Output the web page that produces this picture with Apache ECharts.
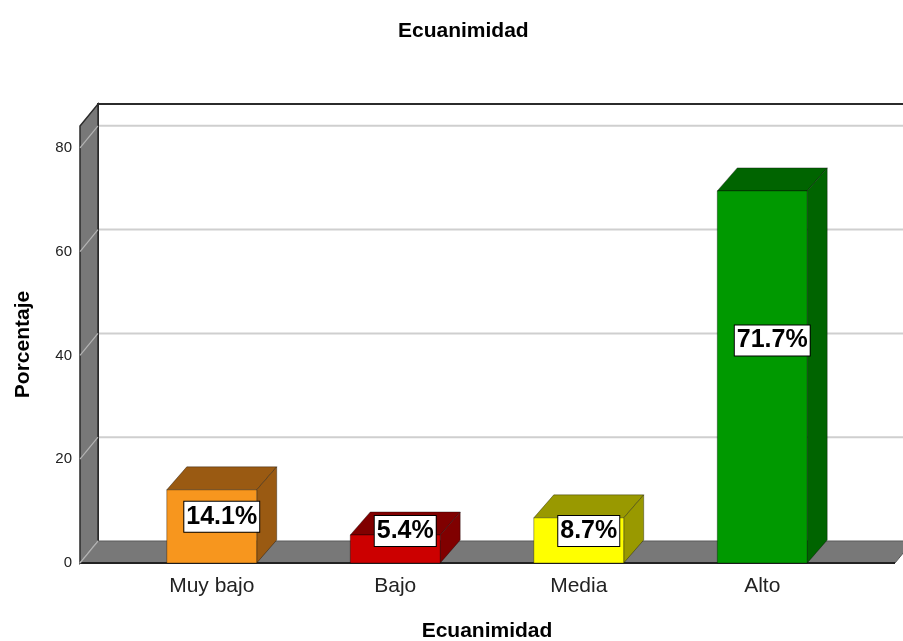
<!DOCTYPE html>
<html>
<head>
<meta charset="utf-8">
<script src="https://cdn.jsdelivr.net/npm/echarts@6/dist/echarts.min.js"></script>
<style>
html, body { margin: 0; padding: 0; background: #fff; }
#main { width: 903px; height: 641px; }
</style>
</head>
<body>
<div id="main"></div>
<script>
var categories = ['Muy bajo', 'Bajo', 'Media', 'Alto'];
var percentages = [14.1, 5.4, 8.7, 71.7];
var tickValues = [0, 20, 40, 60, 80];

var frontColors = ['#F7961E', '#CC0000', '#FFFF00', '#009900'];
var shadeColors = ['#9A5A12', '#800000', '#999900', '#006400'];

var FONT = "'Liberation Sans', Arial, sans-serif";
var WALL_DX = 18, WALL_DY = -22;   // depth of the walls
var BAR_DX = 20, BAR_DY = -23;     // depth of the bars
var WALL_PAD = 40;                 // walls stick out of the grid on both sides

var chart = echarts.init(document.getElementById('main'));

function renderWalls(params, api) {
    var cs = params.coordSys;
    var L = cs.x - WALL_PAD;
    var R = cs.x + cs.width + WALL_PAD + 1;
    var T = cs.y;
    var Y0 = cs.y + cs.height;
    var kids = [];

    // back wall grid lines
    tickValues.forEach(function (v) {
        var y = api.coord([0, v])[1];
        if (v > 0) {
            kids.push({ type: 'line', shape: { x1: L + WALL_DX, y1: y + WALL_DY, x2: R + WALL_DX + 20, y2: y + WALL_DY },
                style: { stroke: '#cfcfcf', lineWidth: 2 } });
        }
    });
    // back wall border
    kids.push({ type: 'polyline', shape: { points: [[L + WALL_DX, Y0 + WALL_DY], [L + WALL_DX, T + WALL_DY], [R + WALL_DX + 20, T + WALL_DY]] },
        style: { stroke: '#2b2b2b', lineWidth: 2, fill: null } });
    // left wall
    kids.push({ type: 'polygon', shape: { points: [[L, Y0], [L, T], [L + WALL_DX, T + WALL_DY], [L + WALL_DX, Y0 + WALL_DY]] },
        style: { fill: '#787878', stroke: '#2b2b2b', lineWidth: 1.5 } });
    tickValues.forEach(function (v) {
        var y = api.coord([0, v])[1];
        kids.push({ type: 'line', shape: { x1: L, y1: y, x2: L + WALL_DX, y2: y + WALL_DY },
            style: { stroke: '#b4b4b4', lineWidth: 1.2 } });
    });
    // floor
    kids.push({ type: 'polygon', shape: { points: [[L, Y0], [R, Y0], [R + WALL_DX, Y0 + WALL_DY], [L + WALL_DX, Y0 + WALL_DY]] },
        style: { fill: '#787878', stroke: '#5a5a5a', lineWidth: 1 } });
    kids.push({ type: 'line', shape: { x1: L, y1: Y0, x2: R, y2: Y0 },
        style: { stroke: '#222', lineWidth: 2 } });
    kids.push({ type: 'line', shape: { x1: L, y1: Y0, x2: L + WALL_DX, y2: Y0 + WALL_DY },
        style: { stroke: '#b4b4b4', lineWidth: 1.2 } });
    return { type: 'group', children: kids };
}

function renderBar(params, api) {
    var i = api.value(0);
    var top = api.coord([i, api.value(1)]);
    var y0 = api.coord([i, 0])[1];
    var w = api.size([1, 0])[0] * 0.49;
    var xl = top[0] - w / 2, xr = top[0] + w / 2, ty = top[1];
    var h = y0 - ty;
    var front = frontColors[i], shade = shadeColors[i];
    var labelY = y0 - Math.max(0.59 * h + 3, 32);
    return {
        type: 'group',
        children: [
            { type: 'polygon', shape: { points: [[xl, ty], [xr, ty], [xr + BAR_DX, ty + BAR_DY], [xl + BAR_DX, ty + BAR_DY]] },
              style: { fill: shade, stroke: 'rgba(0,0,0,0.35)', lineWidth: 1 } },
            { type: 'polygon', shape: { points: [[xr, ty], [xr + BAR_DX, ty + BAR_DY], [xr + BAR_DX, y0 + BAR_DY], [xr, y0]] },
              style: { fill: shade, stroke: 'rgba(0,0,0,0.35)', lineWidth: 1 } },
            { type: 'rect', shape: { x: xl, y: ty, width: w, height: h },
              style: { fill: front, stroke: 'rgba(0,0,0,0.35)', lineWidth: 1 } },
            { type: 'text', x: top[0] + BAR_DX / 2, y: labelY,
              style: {
                  text: api.value(1).toFixed(1) + '%',
                  font: 'bold 25px ' + FONT,
                  fill: '#000',
                  align: 'center',
                  verticalAlign: 'middle',
                  backgroundColor: '#fff',
                  borderColor: '#000',
                  borderWidth: 1,
                  padding: [3, 2, 2, 2]
              } }
        ]
    };
}

var option = {
    animation: false,
    backgroundColor: '#fff',
    title: {
        text: 'Ecuanimidad',
        left: 393,
        top: 16,
        textStyle: { fontFamily: FONT, fontSize: 21, fontWeight: 'bold', color: '#000' }
    },
    grid: { left: 120, right: 49, top: 126, bottom: 78, outerBoundsMode: 'none' },
    xAxis: {
        type: 'category',
        data: categories,
        axisLine: { show: false },
        axisTick: { show: false },
        axisLabel: { fontFamily: FONT, fontSize: 21, color: '#222', margin: 13 },
        name: 'Ecuanimidad',
        nameLocation: 'middle',
        nameGap: 58,
        nameTextStyle: { fontFamily: FONT, fontSize: 21, fontWeight: 'bold', color: '#000' }
    },
    yAxis: {
        type: 'value',
        min: 0,
        max: 84.2,
        interval: 20,
        offset: 40,
        axisLine: { show: false },
        axisTick: { show: false },
        splitLine: { show: false },
        axisLabel: { fontFamily: FONT, fontSize: 15, color: '#222', margin: 8, showMaxLabel: false },
        name: 'Porcentaje',
        nameLocation: 'middle',
        nameGap: 46,
        nameTextStyle: { fontFamily: FONT, fontSize: 21, fontWeight: 'bold', color: '#000' }
    },
    series: [
        {
            type: 'custom',
            renderItem: renderWalls,
            data: [[0, 0]],
            silent: true,
            z: 1
        },
        {
            type: 'custom',
            renderItem: renderBar,
            data: percentages.map(function (v, i) { return [i, v]; }),
            z: 5
        }
    ]
};

chart.setOption(option);
</script>
</body>
</html>
